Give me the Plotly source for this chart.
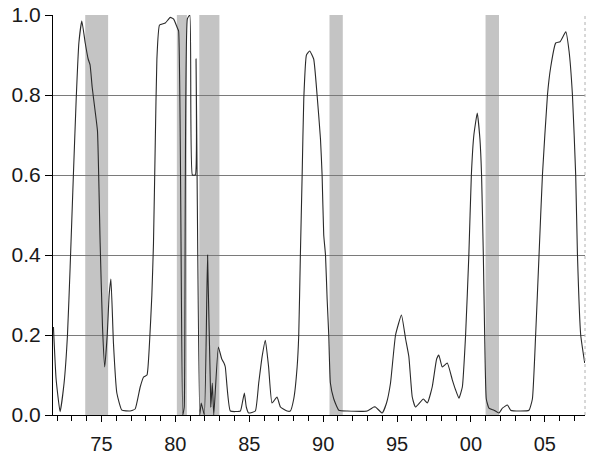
import plotly.graph_objects as go

# Probability series (decimal year, value)
years = [1971.75, 1971.93, 1972.20, 1972.47, 1972.70, 1972.88, 1973.10, 1973.29, 1973.47, 1973.67,
         1973.90, 1974.10, 1974.23, 1974.37, 1974.57, 1974.73, 1974.91, 1975.07, 1975.22, 1975.39,
         1975.52, 1975.64, 1975.81, 1976.04, 1976.38, 1976.94, 1977.28, 1977.62, 1977.85, 1978.08,
         1978.25, 1978.41, 1978.52, 1978.64, 1978.75, 1978.93, 1979.32, 1979.65, 1979.88, 1980.11,
         1980.22, 1980.50, 1980.60, 1980.81, 1980.98, 1981.15, 1981.35, 1981.40, 1981.47, 1981.65,
         1981.75, 1981.96, 1982.18, 1982.40, 1982.50, 1982.60, 1982.91, 1983.14, 1983.29, 1983.38,
         1983.72, 1984.40, 1984.53, 1984.67, 1984.80, 1984.96, 1985.41, 1985.64, 1985.87, 1986.09,
         1986.31, 1986.54, 1986.88, 1987.11, 1987.56, 1987.78, 1988.01, 1988.24, 1988.35, 1988.46,
         1988.58, 1988.69, 1988.87, 1989.09, 1989.36, 1989.59, 1989.82, 1989.93, 1990.04, 1990.16,
         1990.27, 1990.38, 1990.49, 1990.72, 1991.06, 1991.63, 1992.98, 1993.43, 1993.54, 1994.00,
         1994.29, 1994.56, 1994.90, 1995.30, 1995.58, 1995.80, 1996.03, 1996.25, 1996.78, 1997.05,
         1997.38, 1997.68, 1997.83, 1998.06, 1998.40, 1998.74, 1998.96, 1999.19, 1999.42, 1999.64,
         1999.86, 2000.03, 2000.20, 2000.43, 2000.61, 2000.72, 2000.84, 2000.93, 2001.04, 2001.22,
         2001.56, 2001.90, 2002.13, 2002.47, 2002.69, 2003.37, 2003.93, 2004.16, 2004.38, 2004.61,
         2004.84, 2005.18, 2005.40, 2005.74, 2006.03, 2006.42, 2006.64, 2006.87, 2007.09, 2007.21,
         2007.43, 2007.70]
prob = [0.22, 0.09, 0.008, 0.08, 0.20, 0.37, 0.60, 0.79, 0.93, 0.985,
        0.93, 0.89, 0.875, 0.82, 0.76, 0.71, 0.43, 0.22, 0.12, 0.20,
        0.30, 0.34, 0.18, 0.055, 0.012, 0.01, 0.015, 0.07, 0.095, 0.10,
        0.18, 0.30, 0.43, 0.68, 0.89, 0.975, 0.98, 0.994, 0.99, 0.97,
        0.96, 0.0, 0.02, 0.99, 1.0, 0.60, 0.60, 0.89, 0.60, 0.0,
        0.03, 0.0, 0.40, 0.02, 0.08, 0.0, 0.17, 0.14, 0.13, 0.12,
        0.01, 0.01, 0.03, 0.055, 0.02, 0.005, 0.01, 0.08, 0.146, 0.187,
        0.12, 0.03, 0.045, 0.02, 0.01, 0.01, 0.04, 0.12, 0.20, 0.40,
        0.60, 0.79, 0.90, 0.91, 0.89, 0.80, 0.69, 0.60, 0.45, 0.40,
        0.29, 0.20, 0.08, 0.04, 0.012, 0.01, 0.01, 0.02, 0.02, 0.005,
        0.03, 0.08, 0.20, 0.25, 0.19, 0.146, 0.045, 0.02, 0.04, 0.03,
        0.07, 0.14, 0.15, 0.12, 0.13, 0.088, 0.063, 0.042, 0.07, 0.20,
        0.40, 0.60, 0.70, 0.755, 0.69, 0.60, 0.40, 0.20, 0.04, 0.017,
        0.012, 0.005, 0.017, 0.025, 0.012, 0.01, 0.012, 0.04, 0.20, 0.40,
        0.60, 0.80, 0.87, 0.93, 0.933, 0.958, 0.91, 0.80, 0.60, 0.40,
        0.20, 0.13]

# Recession periods (shaded)
rec_start = [1973.90, 1980.10, 1981.62, 1990.43, 2000.99]
rec_end = [1975.45, 1980.78, 1982.98, 1991.33, 2001.90]

# Axis ticks
x_tickvals = [1975, 1980, 1985, 1990, 1995, 2000, 2005]
x_ticktext = ["75", "80", "85", "90", "95", "00", "05"]
y_tickvals = [0.0, 0.2, 0.4, 0.6, 0.8, 1.0]
y_ticktext = ["0.0", "0.2", "0.4", "0.6", "0.8", "1.0"]

fig = go.Figure()
fig.add_trace(go.Scatter(x=years, y=prob, mode="lines",
                         line=dict(color="#2a2a2a", width=1.1, shape="spline", smoothing=0.4),
                         hoverinfo="x+y", showlegend=False, cliponaxis=True))

for s, e in zip(rec_start, rec_end):
    fig.add_shape(type="rect", xref="x", yref="y", x0=s, x1=e, y0=0, y1=1,
                  fillcolor="#c4c4c4", line=dict(width=0), layer="below")

# right frame line (dotted, light)
fig.add_shape(type="line", xref="paper", yref="paper", x0=1, x1=1, y0=0, y1=1,
              line=dict(color="#b0b0b0", width=1, dash="dot"))

fig.update_layout(
    width=600, height=457,
    margin=dict(l=53, r=15, t=15, b=42, autoexpand=False),
    paper_bgcolor="white", plot_bgcolor="white",
    font=dict(family="Liberation Sans, Arial, sans-serif", size=20, color="#1a1a1a"),
    xaxis=dict(range=[1971.72, 2007.72], tickmode="array", tickvals=x_tickvals,
               ticktext=x_ticktext, ticks="outside", ticklen=6, tickwidth=1,
               tickcolor="black", showline=True, linecolor="black", linewidth=1,
               showgrid=False, zeroline=False, automargin=False,
               ticklabelstandoff=5,
               minor=dict(tickmode="linear", tick0=1972, dtick=1, ticks="outside",
                          ticklen=5, tickcolor="black", showgrid=False)),
    yaxis=dict(range=[0, 1.0], tickmode="array", tickvals=y_tickvals,
               ticktext=y_ticktext, ticks="outside", ticklen=7, tickwidth=1,
               tickcolor="black", showline=True, linecolor="black", linewidth=1,
               showgrid=True, gridcolor="#7a7a7a", gridwidth=1, zeroline=False,
               automargin=False, tickfont=dict(size=21)),
)

# remove the default page margin so the 600x457 figure fills the window
fig.write_html("out.html", config={"displayModeBar": False},
               post_script="document.body.style.margin='0';")
